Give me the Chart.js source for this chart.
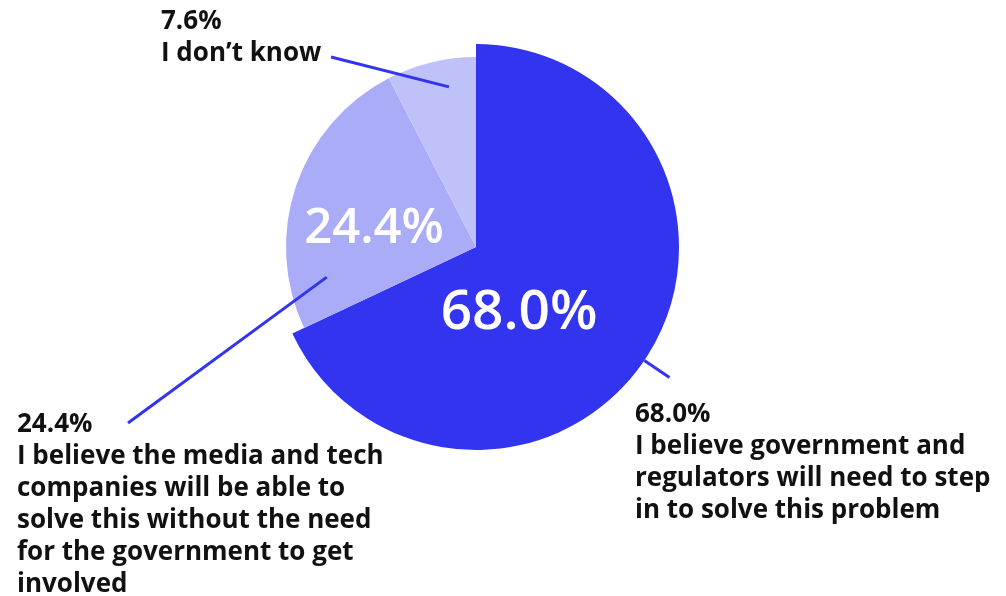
<!DOCTYPE html>
<html>
<head>
<meta charset="utf-8">
<script src="https://cdn.jsdelivr.net/npm/chart.js@4.4.1/dist/chart.umd.min.js"></script>
<style>
  html, body { margin: 0; padding: 0; background: #fff; }
  #wrap { width: 1006px; height: 596px; position: relative; }
</style>
</head>
<body>
<div id="wrap"><canvas id="pie"></canvas></div>
<script>
  const categories = [
    'I believe government and regulators will need to step in to solve this problem',
    'I believe the media and tech companies will be able to solve this without the need for the government to get involved',
    'I don\u2019t know'
  ];
  const shares = [68.0, 24.4, 7.6];
  const sliceColors = ['#3234F0', '#AAACF7', '#BFC1F9'];

  // wrapped caption lines for each slice
  const captionLines = [
    ['I believe government and', 'regulators will need to step', 'in to solve this problem'],
    ['I believe the media and tech', 'companies will be able to', 'solve this without the need', 'for the government to get', 'involved'],
    ['I don\u2019t know']
  ];

  const FONT = '"Open Sans", sans-serif';
  const LINE_COLOR = '#3234F0';

  // where each caption block sits and how its leader line runs
  // (angles in degrees clockwise from 12 o'clock, radii as fraction of the big slice radius)
  const callouts = [
    { textX: 635, firstBaseline: 422, from: { a: 124, r: 1.0 }, to: { a: 124, r: 1.15 }, inner: { a: 147, r: 0.39, size: 55 } },
    { textX: 17, firstBaseline: 432, from: { a: 258.6, r: 0.75 }, to: { x: 128, y: 423 }, inner: { a: 280, r: 0.51, size: 49 } },
    { textX: 161, firstBaseline: 29, from: { a: 350.4, r: 0.8 }, to: { x: 331, y: 57 } }
  ];

  const pct = v => v.toFixed(1) + '%';

  // the two smaller slices are drawn with a slightly smaller radius
  const shrinkSlices = {
    id: 'shrinkSlices',
    afterDatasetsUpdate(chart, args, opts) {
      const meta = chart.getDatasetMeta(0);
      meta.data.forEach((arc, i) => {
        if (i > 0) arc.outerRadius = arc.outerRadius * opts.ratio;
      });
    }
  };

  const callout = {
    id: 'callout',
    afterDatasetsDraw(chart) {
      const ctx = chart.ctx;
      const meta = chart.getDatasetMeta(0);
      const arc0 = meta.data[0];
      const cx = arc0.x, cy = arc0.y, R = arc0.outerRadius;
      const polar = p => {
        if (p.x !== undefined) return [p.x, p.y];
        const t = p.a * Math.PI / 180;
        return [cx + Math.sin(t) * p.r * R, cy - Math.cos(t) * p.r * R];
      };
      ctx.save();
      callouts.forEach((c, i) => {
        // leader line
        const [x1, y1] = polar(c.from);
        const [x2, y2] = polar(c.to);
        ctx.strokeStyle = LINE_COLOR;
        ctx.lineWidth = 3;
        ctx.beginPath();
        ctx.moveTo(x1, y1);
        ctx.lineTo(x2, y2);
        ctx.stroke();

        // caption: value then wrapped category text
        ctx.fillStyle = '#111';
        ctx.textAlign = 'left';
        ctx.textBaseline = 'alphabetic';
        ctx.font = '700 26px ' + FONT;
        const lines = [pct(shares[i])].concat(captionLines[i]);
        lines.forEach((ln, k) => ctx.fillText(ln, c.textX, c.firstBaseline + k * 32));

        // large value inside the slice
        if (c.inner) {
          const [tx, ty] = polar(c.inner);
          ctx.fillStyle = '#fff';
          ctx.textAlign = 'center';
          ctx.textBaseline = 'middle';
          ctx.font = '600 ' + c.inner.size + 'px ' + FONT;
          ctx.fillText(pct(shares[i]), tx, ty);
        }
      });
      ctx.restore();
    }
  };

  new Chart(document.getElementById('pie'), {
    type: 'pie',
    data: {
      labels: categories,
      datasets: [{
        data: shares,
        backgroundColor: sliceColors,
        borderWidth: 0
      }]
    },
    options: {
      responsive: true,
      maintainAspectRatio: false,
      animation: false,
      layout: { padding: { top: 44, bottom: 146, left: 273, right: 327 } },
      plugins: {
        legend: { display: false },
        tooltip: { enabled: false },
        shrinkSlices: { ratio: 0.936 }
      }
    },
    plugins: [shrinkSlices, callout]
  });
</script>
</body>
</html>
